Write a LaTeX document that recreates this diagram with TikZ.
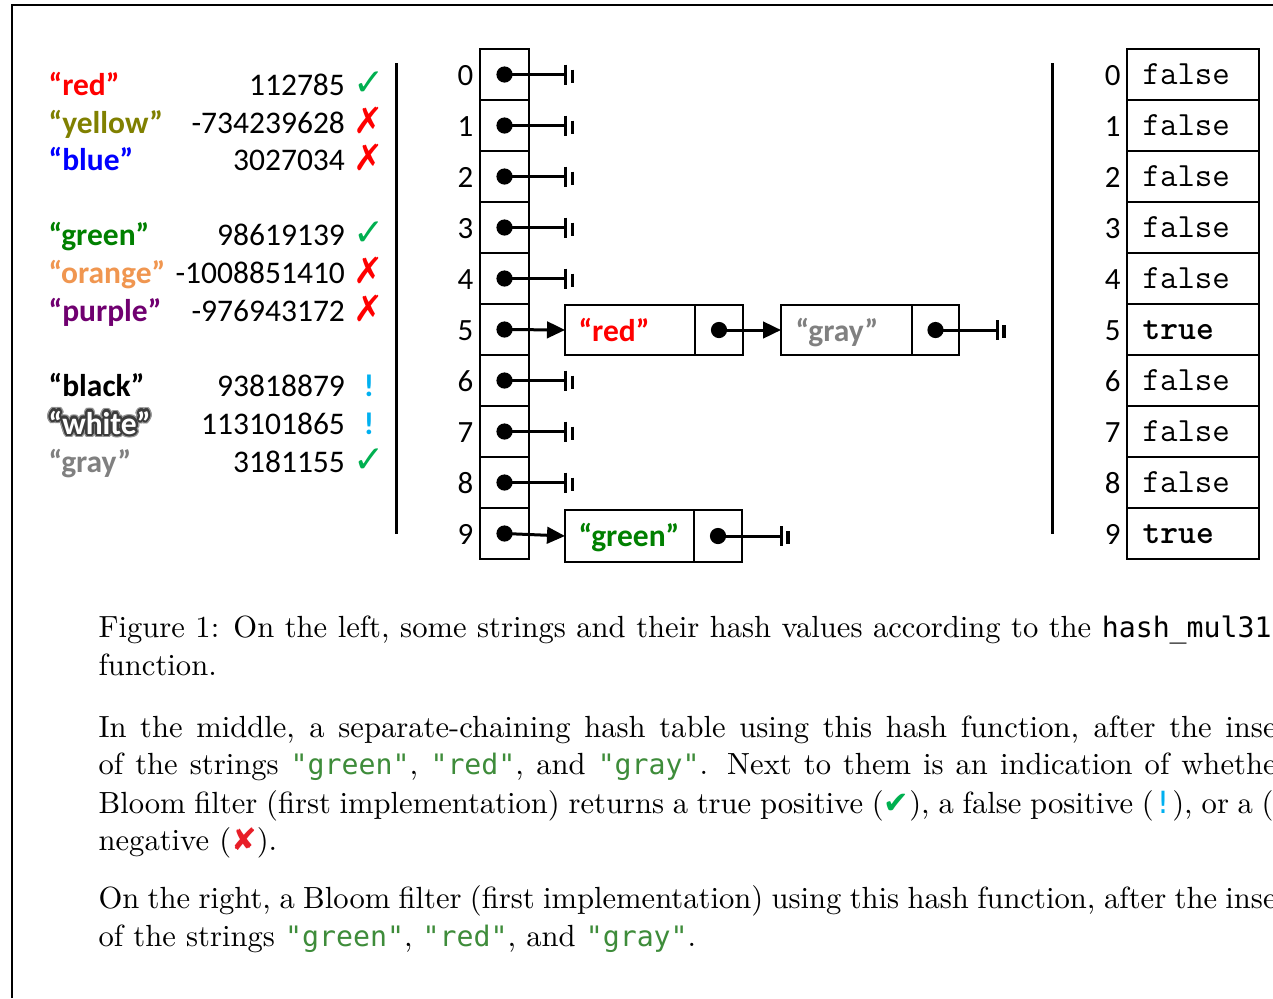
\documentclass[tikz,border=0pt]{standalone}
\usepackage{fontspec}
\newfontfamily\calfont{Carlito}
\newfontfamily\courfont{Liberation Mono}
\newfontfamily\djvfont{DejaVu Sans}
\newfontfamily\codefont{DejaVu Sans Mono}
\usetikzlibrary{arrows.meta,calc}
\newdimen\pxd \pxd=0.33333pt
\definecolor{cred}{RGB}{255,0,0}
\definecolor{cyellow}{RGB}{128,128,0}
\definecolor{cblue}{RGB}{0,0,255}
\definecolor{cgreen}{RGB}{0,128,0}
\definecolor{corange}{RGB}{240,150,80}
\definecolor{cpurple}{RGB}{112,0,112}
\definecolor{cgray}{RGB}{128,128,128}
\definecolor{okgreen}{RGB}{0,176,80}
\definecolor{excblue}{RGB}{0,176,240}
\definecolor{codegreen}{RGB}{62,140,58}
\definecolor{xred}{RGB}{232,30,40}
\definecolor{glowa}{RGB}{150,150,150}
\definecolor{glowb}{RGB}{60,60,60}
\newcommand\chk{{\djvfont\fontsize{12.5}{14}\selectfont\color{okgreen}✓}}
\newcommand\crs{{\djvfont\fontsize{12}{14}\selectfont\color{cred}✗}}
\newcommand\exc{{\calfont\bfseries\color{excblue}!}}
\newcommand\code[1]{{\codefont\fontsize{9.4}{12}\selectfont\color{codegreen}#1}}
\tikzset{
  strtxt/.style={font=\calfont\bfseries\fontsize{10.5}{12}\selectfont, inner sep=0, anchor=base west},
  numtxt/.style={font=\calfont\fontsize{10.5}{12}\selectfont, inner sep=0, anchor=base east},
  symtxt/.style={font=\fontsize{10.5}{12}\selectfont, inner sep=0, anchor=base},
  idxtxt/.style={font=\calfont\fontsize{10.3}{12}\selectfont, inner sep=0, anchor=base east},
  cellbox/.style={draw, line width=0.5pt, inner sep=0, outer sep=0, minimum width={49*\pxd}, minimum height={51*\pxd}},
  bcellbox/.style={cellbox, minimum width={132*\pxd}},
  bittxt/.style={font=\ttfamily\fontsize{11.3}{12}\selectfont, inner sep=0, anchor=base west},
  connline/.style={line width=1pt},
  arrline/.style={connline, -{Triangle[length=6pt,width=5.5pt]}},
  nullend/.pic={\draw[line width=1pt] (0,-10) -- (0,10); \draw[line width=1.1pt] (7,-5) -- (7,8);},
  captxt/.style={font=\fontsize{10.2}{12}\selectfont, inner sep=0, anchor=base west},
}
\begin{document}
\begin{tikzpicture}[x=0.33333pt,y=-0.33333pt]
\useasboundingbox (0,0) rectangle (1273,998);
\fill[white] (0,0) rectangle (1273,998);
\clip (0,0) rectangle (1273,998);
\draw[line width=0.5pt] (12,998) -- (12,5) -- (1273,5);

% left column
\foreach \s/\n/\m/\yy in {red/112785/\chk/95, yellow/-734239628/\crs/133, blue/3027034/\crs/170,
  green/98619139/\chk/245, orange/-1008851410/\crs/283, purple/-976943172/\crs/321,
  black/93818879/\exc/396, white/113101865/\exc/434, gray/3181155/\chk/472}{
  \node[numtxt] (n\s) at (345.5,\yy) {\n};
  \node[symtxt] (m\s) at (369,\yy) {\m};
}
\foreach \s/\c/\yy in {red/cred/95, yellow/cyellow/133, blue/cblue/170, green/cgreen/245, orange/corange/283,
  purple/cpurple/321, black/black/396, gray/cgray/472}{
  \node[strtxt, text=\c] (s\s) at (48,\yy) {“\s”};
}
\foreach \k in {0,...,23}{
  \node[strtxt, text=glowa] (glowo\k) at ($(48,434)+(\k*15:3.6)$) {“white”};
}
\foreach \k in {0,...,15}{
  \node[strtxt, text=glowb] (glowi\k) at ($(48,434)+(\k*22.5:2.2)$) {“white”};
}
\node[strtxt, text=white] (swhite) at (48,434) {“white”};

\draw[line width=1pt] (396,63) -- (396,534);
\draw[line width=1pt] (1052,63) -- (1052,534);

% hash table
\foreach \i in {0,...,9}{
  \pgfmathsetmacro\yc{74.5+51*\i}
  \node[cellbox] (h\i) at (504.5,\yc) {};
  \node[idxtxt] (hi\i) at (474,\yc+10.5) {\i};
  \fill (h\i.center) circle[radius=2.7pt];
}
\foreach \i in {0,1,2,3,4,6,7,8}{
  \draw[connline] (h\i.center) -- ++(61,0) coordinate (hn\i);
  \pic at (hn\i) {nullend};
}
% chain row 5
\node[cellbox, minimum width={130*\pxd}, minimum height={50*\pxd}] (redval) at (630,330) {};
\node[cellbox, minimum width={48*\pxd}, minimum height={50*\pxd}] (rednext) at (719,330) {};
\node[cellbox, minimum width={131*\pxd}, minimum height={50*\pxd}] (grayval) at (846.5,330) {};
\node[cellbox, minimum width={47*\pxd}, minimum height={50*\pxd}] (graynext) at (935.5,330) {};
\node[strtxt, text=cred, anchor=base] (redtxt) at (614,341) {“red”};
\node[strtxt, text=cgray, anchor=base] (graytxt) at (837,341) {“gray”};
\draw[arrline] (h5.center) -- (redval.west);
\fill (rednext.center) circle[radius=2.7pt];
\draw[arrline] (rednext.center) -- (grayval.west);
\fill (graynext.center) circle[radius=2.7pt];
\draw[connline] (graynext.center) -- (997,330) coordinate (grayend);
\pic at (grayend) {nullend};
% chain row 9
\node[cellbox, minimum width={129*\pxd}, minimum height={52*\pxd}] (greenval) at (629.5,536) {};
\node[cellbox, minimum width={48*\pxd}, minimum height={52*\pxd}] (greennext) at (718,536) {};
\node[strtxt, text=cgreen, anchor=base] (greentxt) at (629,546) {“green”};
\draw[arrline] (h9.center) -- (greenval.west);
\fill (greennext.center) circle[radius=2.7pt];
\draw[connline] (greennext.center) -- (781,536) coordinate (greenend);
\pic at (greenend) {nullend};

% bloom filter
\foreach \i/\v in {0/false,1/false,2/false,3/false,4/false,5/{\bfseries true},6/false,7/false,8/false,9/{\bfseries true}}{
  \pgfmathsetmacro\yc{74.5+51*\i}
  \node[bcellbox] (b\i) at (1193,\yc) {};
  \node[idxtxt] (bi\i) at (1121,\yc+10.5) {\i};
  \node[bittxt] (bv\i) at (1142,\yc+9.5) {\v};
}

% caption
\node[captxt] (c1) at (98,637) {\makebox[1173\pxd][s]{Figure 1: On the left, some strings and their hash values according to the {\codefont\fontsize{9.4}{12}\selectfont hash\_mul31}}};
\node[captxt] (c2) at (98,675) {function.};
\node[captxt] (c3) at (98,737) {\makebox[1178\pxd][s]{In the middle, a separate-chaining hash table using this hash function, after the inse}};
\node[captxt] (c4) at (98,774) {\makebox[1178\pxd][s]{of the strings \code{"green"}, \code{"red"}, and \code{"gray"}. Next to them is an indication of whethe}};
\node[captxt] (c5) at (98,813) {\makebox[1175\pxd][s]{Bloom filter (first implementation) returns a true positive ({\djvfont\color{okgreen}✔}), a false positive ({\codefont\color{excblue}!}), or a (}};
\node[captxt] (c6) at (98,850) {negative ({\djvfont\color{xred}✘}).};
\node[captxt] (c7) at (98,908) {\makebox[1178\pxd][s]{On the right, a Bloom filter (first implementation) using this hash function, after the inse}};
\node[captxt] (c8) at (98,946) {of the strings \code{"green"}, \code{"red"}, and \code{"gray"}.};
\end{tikzpicture}
\end{document}
